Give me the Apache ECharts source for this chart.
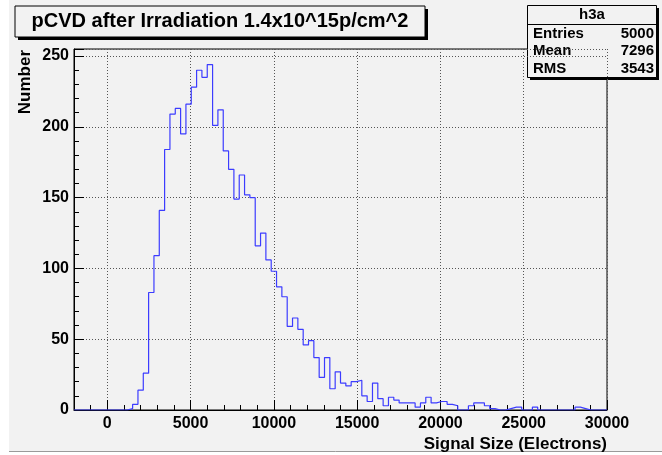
<!DOCTYPE html>
<html>
<head>
<meta charset="utf-8">
<script src="https://cdn.jsdelivr.net/npm/echarts@6/dist/echarts.min.js"></script>
<style>
html,body{margin:0;padding:0;background:#ffffff;}
#c{width:662px;height:455px;}
</style>
</head>
<body>
<div id="c"></div>
<script>
// Histogram h3a: 100 bins from -2000 to 30000 (bin width 320)
const binStart = -2000;
const binWidth = 320;
const counts = [
  0,0,0,0,0,0,0,0,0,0,
  1,4,14,26,83,109,141,184,209,213,
  195,216,228,240,235,244,201,212,183,170,
  149,166,152,150,116,125,106,98,87,80,
  59,65,57,46,49,37,23,37,15,27,
  19,17,20,21,10,6,19,8,3,9,
  7,5,5,5,2,5,9,5,6,6,
  4,3,0,0,3,5,5,3,1,0,
  0,1,2,2,0,0,2,0,0,0,
  0,0,0,0,2,1,0,0,0,0
];
const xRange = [-2000, 30000];
const yRange = [0, 255];
const titleText = 'pCVD after Irradiation 1.4x10^15p/cm^2';
const xAxisTitle = 'Signal Size (Electrons)';
const yAxisTitle = 'Number';
const statsName = 'h3a';
const statsLabels = ['Entries', 'Mean', 'RMS'];
const statsValues = ['5000', '7296', '3543'];

const histData = counts.map((c, i) => [binStart + i * binWidth, c]);
histData.push([binStart + counts.length * binWidth, counts[counts.length - 1]]);

const FONT = 'Liberation Sans';
const BG = '#f2f2f2';
const chart = echarts.init(document.getElementById('c'), null, {renderer: 'canvas'});

const statsRows = [];
statsLabels.forEach((l, i) => {
  statsRows.push({type: 'text', left: 533, top: 26 + i * 17.5,
    style: {text: l, font: 'bold 15px ' + FONT, fill: '#000'}});
  statsRows.push({type: 'text', right: 8, top: 26 + i * 17.5,
    style: {text: statsValues[i], font: 'bold 15px ' + FONT, fill: '#000', textAlign: 'right'}});
});

const option = {
  backgroundColor: 'transparent',
  animation: false,
  grid: {left: 74, right: 55, top: 49, bottom: 45, show: true,
         borderColor: '#000', borderWidth: 1, backgroundColor: BG},
  xAxis: [{
    type: 'value', position: 'bottom', min: xRange[0], max: xRange[1], splitNumber: 5,
    axisLine: {show: true, onZero: false, lineStyle: {color: '#000', width: 1}},
    axisTick: {show: true, inside: true, length: 10, lineStyle: {color: '#000'}},
    axisLabel: {show: true, margin: 6, color: '#000', fontFamily: FONT, fontWeight: 'bold', fontSize: 16,
      formatter: v => (v % 5000 === 0 ? String(v) : '')},
    splitLine: {show: true, lineStyle: {color: '#555', type: [1, 2], width: 1}}
  }, {
    type: 'value', position: 'bottom', min: xRange[0], max: xRange[1], interval: 1000,
    axisLine: {show: false, onZero: false},
    axisTick: {show: true, inside: true, length: 5, lineStyle: {color: '#000'}},
    axisLabel: {show: false}, splitLine: {show: false}
  }],
  yAxis: [{
    type: 'value', position: 'left', min: yRange[0], max: yRange[1], interval: 50,
    axisLine: {show: true, onZero: false, lineStyle: {color: '#000', width: 1}},
    axisTick: {show: true, inside: true, length: 10, lineStyle: {color: '#000'}},
    axisLabel: {show: true, margin: 5, color: '#000', fontFamily: FONT, fontWeight: 'bold', fontSize: 16,
      formatter: v => (v % 50 === 0 ? String(v) : '')},
    splitLine: {show: true, lineStyle: {color: '#555', type: [1, 2], width: 1}}
  }, {
    type: 'value', position: 'left', min: yRange[0], max: yRange[1], interval: 10,
    axisLine: {show: false, onZero: false},
    axisTick: {show: true, inside: true, length: 5, lineStyle: {color: '#000'}},
    axisLabel: {show: false}, splitLine: {show: false}
  }],
  series: [{
    type: 'line', step: 'end', data: histData, xAxisIndex: 0, yAxisIndex: 0,
    symbol: 'none', lineStyle: {color: '#3c3cff', width: 1.2}, z: 5, silent: true
  }],
  graphic: [
    // canvas background with border
    {type: 'rect', z: -10, shape: {x: 9, y: 0, width: 653, height: 452}, style: {fill: BG}, silent: true},
    {type: 'line', z: -9, shape: {x1: 9, y1: 451.5, x2: 662, y2: 451.5}, style: {stroke: '#9a9a9a', lineWidth: 1}, silent: true},
    // title box
    {type: 'rect', shape: {x: 18, y: 9, width: 410, height: 31}, style: {fill: '#000'}, silent: true},
    {type: 'rect', shape: {x: 15, y: 6, width: 410, height: 31}, style: {fill: BG, stroke: '#000', lineWidth: 1}, silent: true},
    {type: 'text', x: 220, y: 21.5, style: {text: titleText, font: 'bold 20px ' + FONT, fill: '#000',
      textAlign: 'center', textVerticalAlign: 'middle'}},
    // stats box
    {type: 'rect', shape: {x: 530, y: 8, width: 129, height: 72}, style: {fill: '#000'}, silent: true},
    {type: 'rect', shape: {x: 527.5, y: 5.5, width: 129, height: 72}, style: {fill: BG, stroke: '#000', lineWidth: 1}, silent: true},
    {type: 'line', shape: {x1: 527.5, y1: 24.5, x2: 656.5, y2: 24.5}, style: {stroke: '#000', lineWidth: 1}},
    {type: 'text', x: 592, y: 15, style: {text: statsName, font: 'bold 15px ' + FONT, fill: '#000',
      textAlign: 'center', textVerticalAlign: 'middle'}},
    ...statsRows,
    // axis titles
    {type: 'text', right: 55, top: 436, style: {text: xAxisTitle, font: 'bold 17px ' + FONT, fill: '#000'}},
    {type: 'text', x: 25, y: 50, rotation: Math.PI / 2,
      style: {text: yAxisTitle, font: 'bold 17px ' + FONT, fill: '#000', textAlign: 'right', textVerticalAlign: 'middle'}}
  ]
};
chart.setOption(option);
</script>
</body>
</html>
